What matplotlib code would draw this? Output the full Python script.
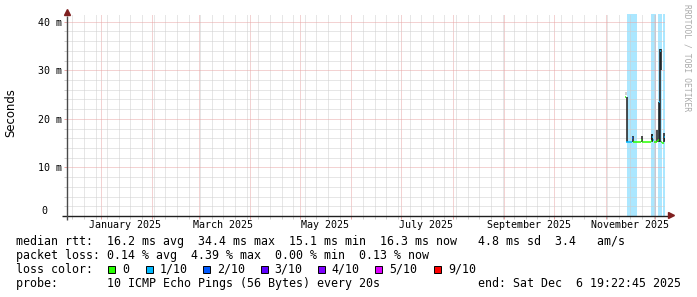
import matplotlib
matplotlib.use("Agg")
import matplotlib.pyplot as plt
import matplotlib.dates as mdates
from matplotlib.ticker import MultipleLocator, FuncFormatter
from matplotlib.patches import Rectangle
from matplotlib.transforms import blended_transform_factory
import pandas as pd

# graph window: last 360 days up to the "end:" stamp
t_start = pd.Timestamp("2024-12-11 19:22:45")
t_end = pd.Timestamp("2025-12-06 19:22:45")

# median rtt (ms), one value per 12 h row
sample_start = pd.Timestamp("2025-11-13 00:00")
sample_hours = 12
median_ms = [24.5, 15.3, 15.2, 15.2, 15.2, 15.2, 15.2, 15.2, 16.0,
             15.2, 15.2, 15.2, 15.2, 15.2, 15.2, 15.2, 15.2, 15.2, 15.2,
             15.7,
             15.2, 15.2, 15.2, 15.2, 15.2, 15.2, 15.2, 15.2, 15.2, 15.2, 15.2,
             15.5, 16.2, 15.6, 15.2, 15.2, 15.2, 15.2, 15.4, 15.6,
             23.5, 34.4, 34.0, 15.2, 15.0, 15.0, 16.0, 16.3]
# lost pings out of 10 for each row
loss_count = [0, 1, 1, 1, 1, 1, 1, 1, 2,
              0, 0, 0, 0, 0, 0, 0, 0, 0, 0,
              0,
              0, 0, 0, 0, 0, 0, 0, 0, 0, 0, 0,
              0, 1, 1, 0, 1, 0, 0, 0, 0,
              1, 1, 1, 0, 0, 0, 1, 1]

# smoke (spread of the single pings) where it sticks out of the median
smoke_times = ["2025-11-13 12:00", "2025-11-17 00:00", "2025-11-22 12:00",
               "2025-11-28 12:00", "2025-11-29 00:00", "2025-12-02 00:00",
               "2025-12-03 00:00", "2025-12-03 12:00", "2025-12-04 00:00",
               "2025-12-06 00:00", "2025-12-06 12:00"]
smoke_lo = [15.2, 15.2, 15.2, 15.2, 15.4, 15.2, 15.2, 15.2, 30.0, 15.2, 15.4]
smoke_hi = [24.5, 16.5, 16.4, 16.8, 16.8, 17.7, 23.5, 34.4, 34.3, 17.0, 16.5]
outer_smoke_times = ["2025-11-13 00:00"]
outer_smoke_lo = [24.9]
outer_smoke_hi = [25.5]

# packet loss background bars
loss_bg_from = ["2025-11-13 22:00", "2025-11-28 12:00", "2025-12-02 12:00", "2025-12-05 18:00"]
loss_bg_to = ["2025-11-20 00:00", "2025-12-01 06:00", "2025-12-05 00:00", "2025-12-06 19:22:45"]

loss_colors = {0: "#26ff00", 1: "#00b8ff", 2: "#0059ff", 3: "#5e00ff",
               4: "#7e00ff", 5: "#dd00ff", 9: "#ff0000"}
legend_counts = [0, 1, 2, 3, 4, 5, 9]
legend_labels = ["0", "1/10", "2/10", "3/10", "4/10", "5/10", "9/10"]

label_months = ["2025-01-01", "2025-03-01", "2025-05-01", "2025-07-01", "2025-09-01", "2025-11-01"]
label_texts = ["January 2025", "March 2025", "May 2025", "July 2025", "September 2025", "November 2025"]

line_rtt = "median rtt:  16.2 ms avg  34.4 ms max  15.1 ms min  16.3 ms now   4.8 ms sd  3.4   am/s"
line_loss = "packet loss: 0.14 % avg  4.39 % max  0.00 % min  0.13 % now"
line_probe = "probe:       10 ICMP Echo Pings (56 Bytes) every 20s"
line_end = "end: Sat Dec  6 19:22:45 2025"

MONO = ["DejaVu Sans Mono"]
W, H = 697, 297
MINOR_C = "#cfcfcf"
MAJOR_C = "#e8a6a6"

fig = plt.figure(figsize=(W / 100, H / 100), dpi=100)
fig.patch.set_facecolor("white")
ax = fig.add_axes([67 / W, 81 / H, 598 / W, 202 / H])
ax.set_xlim(mdates.date2num(t_start), mdates.date2num(t_end))
ax.set_ylim(0, 41.6)
for s in ax.spines.values():
    s.set_visible(False)

# grid like rrdtool: weeks / months, 2 ms / 10 ms
ax.xaxis.set_major_locator(mdates.MonthLocator())
ax.xaxis.set_minor_locator(mdates.WeekdayLocator(byweekday=mdates.SU))
ax.yaxis.set_major_locator(MultipleLocator(10))
ax.yaxis.set_minor_locator(MultipleLocator(2))
ax.grid(which="major", color=MAJOR_C, linestyle=(0, (1, 1)), linewidth=0.72)
ax.grid(which="minor", color=MINOR_C, linestyle=(0, (1, 1)), linewidth=0.72)
ax.tick_params(which="both", direction="out", length=2.2, width=0.72)
ax.tick_params(which="major", color=MAJOR_C)
ax.tick_params(which="minor", color=MINOR_C)
ax.tick_params(axis="x", which="both", labelbottom=False)
ax.tick_params(axis="y", which="major", labelsize=7.2, pad=1.6, labelfontfamily="DejaVu Sans Mono")
ax.yaxis.set_major_formatter(FuncFormatter(lambda v, p: "" if v == 0 else f"{int(v)} m"))
ax.text(-19.5 / 598, 5.3 / 202, "0", transform=ax.transAxes, ha="right", va="center",
        fontsize=7.2, family=MONO)

# loss background
for a, b in zip(loss_bg_from, loss_bg_to):
    ax.axvspan(mdates.date2num(pd.Timestamp(a)), mdates.date2num(pd.Timestamp(b)),
               color="#00b8ff", alpha=0.33, lw=0, zorder=1)

half = pd.Timedelta(hours=sample_hours / 2)
ax.vlines(mdates.date2num(pd.to_datetime(outer_smoke_times) + half), outer_smoke_lo, outer_smoke_hi,
          colors="#c4c4c4", lw=1.1, zorder=3)
ax.vlines(mdates.date2num(pd.to_datetime(smoke_times) + half), smoke_lo, smoke_hi,
          colors="#1c1c1c", lw=1.1, zorder=3)

times = pd.date_range(sample_start, periods=len(median_ms), freq=f"{sample_hours}h")
t0 = mdates.date2num(times)
t1 = mdates.date2num(times + pd.Timedelta(hours=sample_hours))
ax.hlines(median_ms, t0, t1, colors=[loss_colors[c] for c in loss_count], lw=1.1, zorder=4)

# axes with arrows
ax.plot([-5 / 598, 602 / 598], [0, 0], transform=ax.transAxes, color="#1f1f1f", lw=1.0,
        clip_on=False, solid_capstyle="butt", zorder=6)
ax.plot([0, 0], [-4 / 202, 200 / 202], transform=ax.transAxes, color="#4a4a4a", lw=1.0,
        clip_on=False, solid_capstyle="butt", zorder=6)
ax.plot([604 / 598], [0.003], marker=">", ms=4.5, color="#7f1f1f", mec="#7f1f1f",
        transform=ax.transAxes, clip_on=False, zorder=7)
ax.plot([0], [204 / 202], marker="^", ms=4.5, color="#7f1f1f", mec="#7f1f1f",
        transform=ax.transAxes, clip_on=False, zorder=7)

# month labels, centred half a month after the month start
trans = blended_transform_factory(ax.transData, ax.transAxes)
for m, lab in zip(label_months, label_texts):
    xm = mdates.date2num(pd.Timestamp(m) + pd.Timedelta(days=15))
    ax.text(xm, -8.8 / 202, lab, transform=trans, ha="center", va="center",
            fontsize=7.2, family=MONO)

fig.text(10.5 / W, 1 - 113 / H, "Seconds", rotation=90, ha="center", va="center",
         fontsize=8.4, family=["DejaVu Sans"])
fig.text(687 / W, 1 - 4 / H, "RRDTOOL / TOBI OETIKER", rotation=270, ha="center", va="top",
         fontsize=5.8, family=MONO, color="#aaaaaa")

# legend block
def yfig(ypix):
    return 1 - ypix / H

fs = 8.4
fig.text(15.5 / W, yfig(241), line_rtt, ha="left", va="center", fontsize=fs, family=MONO)
fig.text(15.5 / W, yfig(255), line_loss, ha="left", va="center", fontsize=fs, family=MONO)
fig.text(15.5 / W, yfig(269.3), "loss color:", ha="left", va="center", fontsize=fs, family=MONO)
box_x = [108, 146, 203, 260.5, 317.5, 375, 434]
for bx, c, lab in zip(box_x, legend_counts, legend_labels):
    fig.patches.append(Rectangle((bx / W, yfig(272.8)), 7 / W, 7 / H, transform=fig.transFigure,
                                 facecolor=loss_colors[c], edgecolor="black", lw=0.7))
    fig.text((bx + 14) / W, yfig(269.3), lab, ha="left", va="center", fontsize=fs, family=MONO)
fig.text(15.5 / W, yfig(283.3), line_probe, ha="left", va="center", fontsize=fs, family=MONO)
fig.text(681 / W, yfig(283.3), line_end, ha="right", va="center", fontsize=fs, family=MONO)

fig.savefig("out.png", dpi=100, facecolor="white")
